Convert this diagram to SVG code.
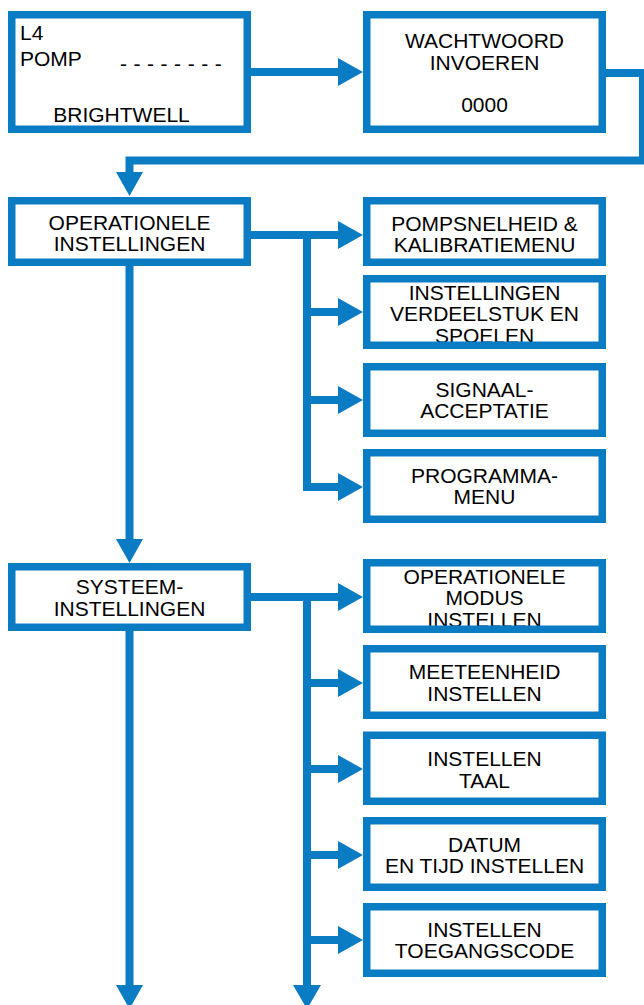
<svg xmlns="http://www.w3.org/2000/svg" width="644" height="1005" viewBox="0 0 644 1005">
<style>
.box{fill:none;stroke:#0a7cc4;stroke-width:7.5}
.bg{fill:#ffffff}
.t{font-family:"Liberation Sans",Arial,sans-serif;font-size:21px;fill:#000000}
.c{text-anchor:middle}
.ln{fill:none;stroke:#0a7cc4;stroke-width:8;stroke-linejoin:miter}
.hd{fill:#0a7cc4}
</style>
<rect width="644" height="1005" fill="#ffffff"/>
<g id="connectors">
<path class="ln" d="M251,72 H340"/>
<polygon class="hd" points="338,58 363,72 338,86"/>
<path class="ln" d="M606,73 H643 V160.5 H129.5 V174"/>
<polygon class="hd" points="116,172 143,172 129.5,196"/>
<path class="ln" d="M251,235 H340"/>
<polygon class="hd" points="338,221 363,235 338,249"/>
<path class="ln" d="M307,235 V491"/>
<path class="ln" d="M303,312 H340"/>
<polygon class="hd" points="338,298 363,312 338,326"/>
<path class="ln" d="M303,400 H340"/>
<polygon class="hd" points="338,386 363,400 338,414"/>
<path class="ln" d="M303,487 H340"/>
<polygon class="hd" points="338,473 363,487 338,501"/>
<path class="ln" d="M129.5,266 V541"/>
<polygon class="hd" points="116,539 143,539 129.5,563"/>
<path class="ln" d="M251,597 H340"/>
<polygon class="hd" points="338,583 363,597 338,611"/>
<path class="ln" d="M307,597 V987"/>
<path class="ln" d="M303,683 H340"/>
<polygon class="hd" points="338,669 363,683 338,697"/>
<path class="ln" d="M303,769 H340"/>
<polygon class="hd" points="338,755 363,769 338,783"/>
<path class="ln" d="M303,855 H340"/>
<polygon class="hd" points="338,841 363,855 338,869"/>
<path class="ln" d="M303,940 H340"/>
<polygon class="hd" points="338,926 363,940 338,954"/>
<polygon class="hd" points="293,985 321,985 307,1009"/>
<path class="ln" d="M129.5,631 V987"/>
<polygon class="hd" points="116,985 143,985 129.5,1009"/>
</g>
<g id="n-pomp">
<rect class="bg" x="11.75" y="14.75" width="235.5" height="114.5"/>
<text class="t" x="20" y="40">L4</text>
<text class="t" x="20" y="66">POMP</text>
<text class="t" x="120" y="71" word-spacing="0.7">- - - - - - - -</text>
<text class="t c" x="121.5" y="122">BRIGHTWELL</text>
<rect class="box" x="11.75" y="14.75" width="235.5" height="114.5"/>
</g>
<g id="n-wachtwoord">
<rect class="bg" x="366.75" y="14.75" width="235.5" height="114.5"/>
<text class="t c" x="484.5" y="48">WACHTWOORD</text>
<text class="t c" x="484.5" y="70">INVOEREN</text>
<text class="t c" x="484.5" y="112">0000</text>
<rect class="box" x="366.75" y="14.75" width="235.5" height="114.5"/>
</g>
<g id="n-operationele">
<rect class="bg" x="11.75" y="200.75" width="235.5" height="61.5"/>
<text class="t c" x="129.5" y="230">OPERATIONELE</text>
<text class="t c" x="129.5" y="251">INSTELLINGEN</text>
<rect class="box" x="11.75" y="200.75" width="235.5" height="61.5"/>
</g>
<g id="n-pompsnelheid">
<rect class="bg" x="366.75" y="200.75" width="235.5" height="61.5"/>
<text class="t c" x="484.5" y="231">POMPSNELHEID &amp;</text>
<text class="t c" x="484.5" y="252">KALIBRATIEMENU</text>
<rect class="box" x="366.75" y="200.75" width="235.5" height="61.5"/>
</g>
<g id="n-verdeelstuk">
<rect class="bg" x="366.75" y="278.75" width="235.5" height="66.5"/>
<text class="t c" x="484.5" y="300">INSTELLINGEN</text>
<text class="t c" x="484.5" y="321">VERDEELSTUK EN</text>
<text class="t c" x="484.5" y="342.5">SPOELEN</text>
<rect class="box" x="366.75" y="278.75" width="235.5" height="66.5"/>
</g>
<g id="n-signaal">
<rect class="bg" x="366.75" y="366.75" width="235.5" height="66.5"/>
<text class="t c" x="484.5" y="397">SIGNAAL-</text>
<text class="t c" x="484.5" y="418">ACCEPTATIE</text>
<rect class="box" x="366.75" y="366.75" width="235.5" height="66.5"/>
</g>
<g id="n-programma">
<rect class="bg" x="366.75" y="452.75" width="235.5" height="66.5"/>
<text class="t c" x="484.5" y="483">PROGRAMMA-</text>
<text class="t c" x="484.5" y="504">MENU</text>
<rect class="box" x="366.75" y="452.75" width="235.5" height="66.5"/>
</g>
<g id="n-systeem">
<rect class="bg" x="11.75" y="566.75" width="235.5" height="60.5"/>
<text class="t c" x="129.5" y="594">SYSTEEM-</text>
<text class="t c" x="129.5" y="616">INSTELLINGEN</text>
<rect class="box" x="11.75" y="566.75" width="235.5" height="60.5"/>
</g>
<g id="n-modus">
<rect class="bg" x="366.75" y="562.75" width="235.5" height="66.5"/>
<text class="t c" x="484.5" y="584">OPERATIONELE</text>
<text class="t c" x="484.5" y="605">MODUS</text>
<text class="t c" x="484.5" y="627">INSTELLEN</text>
<rect class="box" x="366.75" y="562.75" width="235.5" height="66.5"/>
</g>
<g id="n-meeteenheid">
<rect class="bg" x="366.75" y="648.75" width="235.5" height="66.5"/>
<text class="t c" x="484.5" y="679">MEETEENHEID</text>
<text class="t c" x="484.5" y="701">INSTELLEN</text>
<rect class="box" x="366.75" y="648.75" width="235.5" height="66.5"/>
</g>
<g id="n-taal">
<rect class="bg" x="366.75" y="735.25" width="235.5" height="66"/>
<text class="t c" x="484.5" y="766">INSTELLEN</text>
<text class="t c" x="484.5" y="788">TAAL</text>
<rect class="box" x="366.75" y="735.25" width="235.5" height="66"/>
</g>
<g id="n-datum">
<rect class="bg" x="366.75" y="820.75" width="235.5" height="66.5"/>
<text class="t c" x="484.5" y="852">DATUM</text>
<text class="t c" x="484.5" y="873">EN TIJD INSTELLEN</text>
<rect class="box" x="366.75" y="820.75" width="235.5" height="66.5"/>
</g>
<g id="n-toegangscode">
<rect class="bg" x="366.75" y="906.75" width="235.5" height="66.5"/>
<text class="t c" x="484.5" y="937">INSTELLEN</text>
<text class="t c" x="484.5" y="958">TOEGANGSCODE</text>
<rect class="box" x="366.75" y="906.75" width="235.5" height="66.5"/>
</g>
</svg>
